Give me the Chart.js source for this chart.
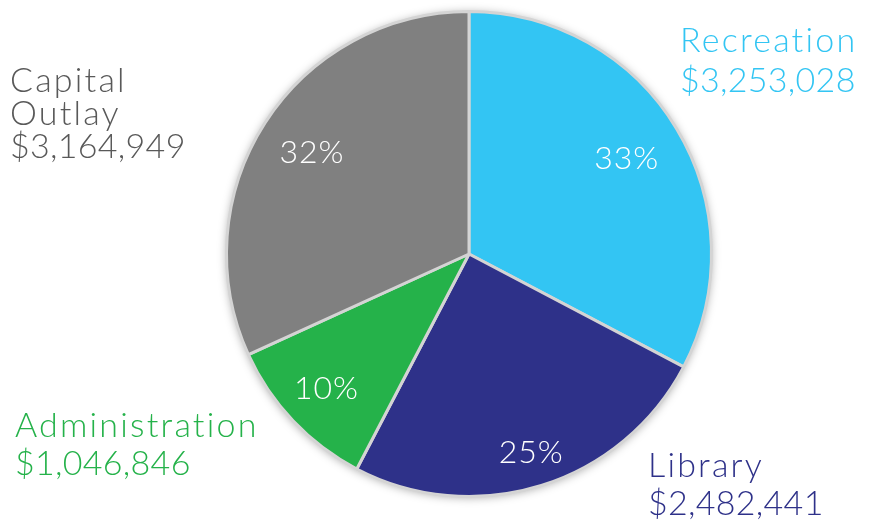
<!DOCTYPE html>
<html>
<head>
<meta charset="utf-8">
<script src="https://cdn.jsdelivr.net/npm/chart.js@4/dist/chart.umd.min.js"></script>
<style>
  html, body { margin: 0; padding: 0; background: #ffffff; }
  #wrap { width: 869px; height: 527px; position: relative; }
</style>
</head>
<body>
<div id="wrap"><canvas id="c" width="869" height="527"></canvas></div>
<script>
const categories = ['Recreation', 'Library', 'Administration', 'Capital Outlay'];
const labelLines = [['Recreation'], ['Library'], ['Administration'], ['Capital', 'Outlay']];
const amounts = [3253028, 2482441, 1046846, 3164949];
const amountLabels = ['$3,253,028', '$2,482,441', '$1,046,846', '$3,164,949'];
const percentLabels = ['33%', '25%', '10%', '32%'];

const sliceColors = ['#33C5F3', '#2E3189', '#25B24A', '#808080'];
const textColors = ['#33C5F3', '#2E3189', '#25B24A', '#595959'];
const FONT = 'Lato, "Open Sans", sans-serif';

// layout for outside labels (left x, first baseline y, line height)
const outsideLayout = [
  { x: 680, y: 52, lh: 40 },
  { x: 648, y: 477, lh: 38 },
  { x: 15, y: 437, lh: 38 },
  { x: 10, y: 92, lh: 33 }
];
const pctRadiusFactor = [0.76, 0.86, 0.81, 0.77];

const shadowPlugin = {
  id: 'shadow',
  beforeDatasetsDraw(chart) {
    const arc = chart.getDatasetMeta(0).data[0];
    if (!arc) return;
    const ctx = chart.ctx;
    ctx.save();
    ctx.shadowColor = 'rgba(0,0,0,0.35)';
    ctx.shadowBlur = 10;
    ctx.shadowOffsetY = 1;
    ctx.fillStyle = '#cccccc';
    ctx.beginPath();
    ctx.arc(arc.x, arc.y, arc.outerRadius, 0, Math.PI * 2);
    ctx.fill();
    ctx.restore();
  }
};

const labelPlugin = {
  id: 'labels',
  afterDatasetsDraw(chart) {
    const ctx = chart.ctx;
    const meta = chart.getDatasetMeta(0);
    ctx.save();
    // percentages
    ctx.font = '300 32px ' + FONT;
    ctx.letterSpacing = '1px';
    ctx.fillStyle = '#ffffff';
    ctx.textAlign = 'center';
    ctx.textBaseline = 'middle';
    meta.data.forEach((a, i) => {
      const mid = (a.startAngle + a.endAngle) / 2;
      const r = a.outerRadius * pctRadiusFactor[i];
      ctx.fillText(percentLabels[i], a.x + Math.cos(mid) * r, a.y + Math.sin(mid) * r);
    });
    // outside labels
    ctx.font = '300 34px ' + FONT;
    ctx.textAlign = 'left';
    ctx.textBaseline = 'alphabetic';
    categories.forEach((c, i) => {
      const L = outsideLayout[i];
      ctx.fillStyle = textColors[i];
      const lines = labelLines[i];
      ctx.letterSpacing = '2.2px';
      lines.forEach((t, k) => ctx.fillText(t, L.x, L.y + k * L.lh));
      ctx.letterSpacing = '0.3px';
      ctx.fillText(amountLabels[i], L.x, L.y + lines.length * L.lh);
    });
    ctx.restore();
  }
};

new Chart(document.getElementById('c'), {
  type: 'pie',
  data: {
    labels: categories,
    datasets: [{
      data: amounts,
      backgroundColor: sliceColors,
      borderColor: '#d4d4d4',
      borderWidth: 3
    }]
  },
  options: {
    responsive: false,
    animation: false,
    layout: { padding: { left: 225, right: 156, top: 9, bottom: 28 } },
    plugins: { legend: { display: false }, tooltip: { enabled: false } }
  },
  plugins: [shadowPlugin, labelPlugin]
});
</script>
</body>
</html>
